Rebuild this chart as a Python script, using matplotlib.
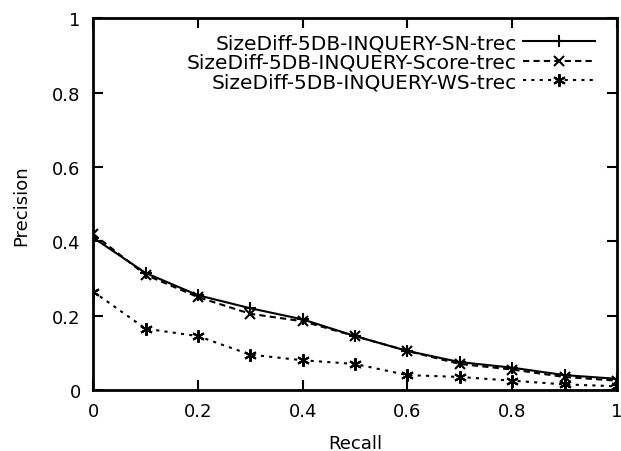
import matplotlib
matplotlib.use("Agg")
import matplotlib.pyplot as plt

recall = [0.0, 0.1, 0.2, 0.3, 0.4, 0.5, 0.6, 0.7, 0.8, 0.9, 1.0]
sn = [0.41, 0.315, 0.255, 0.22, 0.19, 0.145, 0.105, 0.075, 0.06, 0.04, 0.03]
score = [0.42, 0.31, 0.25, 0.205, 0.185, 0.145, 0.105, 0.07, 0.055, 0.035, 0.025]
ws = [0.265, 0.165, 0.145, 0.095, 0.08, 0.07, 0.04, 0.035, 0.025, 0.015, 0.01]
labels = ["SizeDiff-5DB-INQUERY-SN-trec", "SizeDiff-5DB-INQUERY-Score-trec",
          "SizeDiff-5DB-INQUERY-WS-trec"]
xticks = [0, 0.2, 0.4, 0.6, 0.8, 1]
yticks = [0, 0.2, 0.4, 0.6, 0.8, 1]
xtick_labels = ["0", "0.2", "0.4", "0.6", "0.8", "1"]
ytick_labels = ["0", "0.2", "0.4", "0.6", "0.8", "1"]

plt.rcParams['font.family'] = ['DejaVu Sans']
fig = plt.figure(figsize=(6.21, 4.52), dpi=100)
ax = fig.add_axes([0.150, 0.135, 0.8436, 0.822])

ax.plot(recall, sn, color='black', lw=1.5, linestyle='-', marker='+', ms=9, mew=1.5, label=labels[0])
ax.plot(recall, score, color='black', lw=1.5, linestyle=(0, (3, 2)), marker='x', ms=7, mew=1.5, label=labels[1])
ax.plot(recall, ws, color='black', lw=1.5, linestyle=(0, (1.5, 2.5)), marker=(6, 2, 0), ms=9, mew=1.5, label=labels[2])

ax.set_xlim(0, 1)
ax.set_ylim(0, 1)
ax.set_xticks(xticks)
ax.set_xticklabels(xtick_labels)
ax.set_yticks(yticks)
ax.set_yticklabels(ytick_labels)
ax.tick_params(direction='in', top=True, right=True, length=7, width=1.5, labelsize=13)
ax.tick_params(axis='y', pad=9)
ax.tick_params(axis='x', pad=9)
for s in ax.spines.values():
    s.set_linewidth(2)
ax.set_xlabel("Recall", fontsize=13, labelpad=10)
ax.set_ylabel("Precision", fontsize=13, labelpad=16)

leg = ax.legend(loc='upper right', bbox_to_anchor=(0.958, 0.960), frameon=False,
                markerfirst=False, fontsize=14.5, handlelength=3.6, labelspacing=0.03,
                borderaxespad=0.0, borderpad=0.0, handletextpad=0.3)

fig.savefig("out.png", dpi=100)
